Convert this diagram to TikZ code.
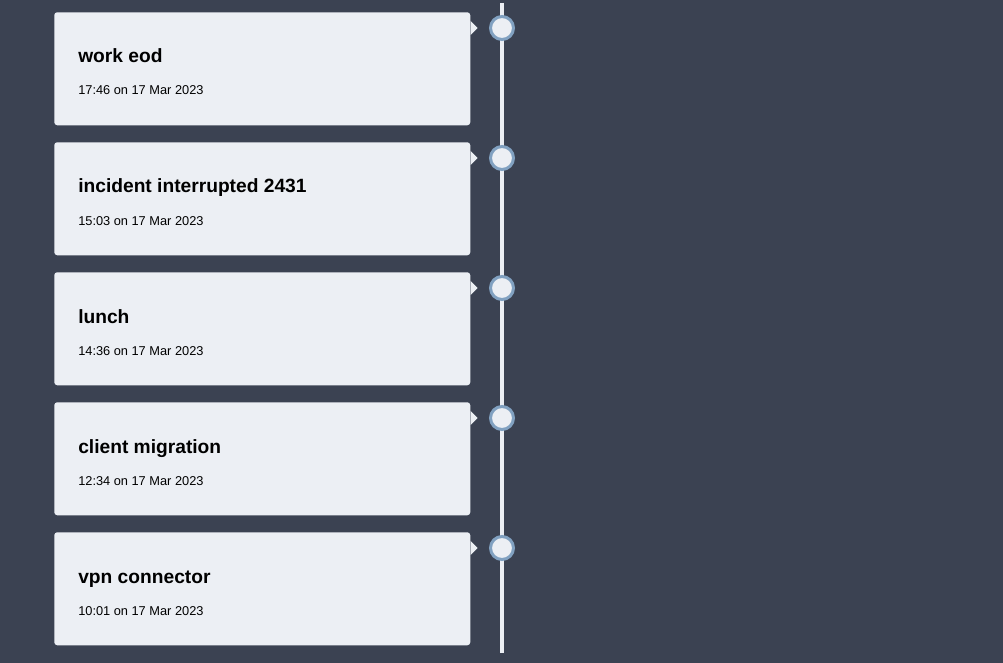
\documentclass[tikz,border=0pt]{standalone}
\usepackage{fontspec}
\setmainfont{Liberation Sans}
\usetikzlibrary{positioning,calc}
\definecolor{nordBg}{RGB}{59,66,82}
\definecolor{nordSnow}{RGB}{236,239,244}
\definecolor{nordFrost}{RGB}{129,161,193}

\begin{document}
\begin{tikzpicture}[x=0.75pt,y=-0.75pt,
    card/.style={fill=nordSnow,rounded corners=2.25pt,minimum width=312pt,
                 minimum height=84.75pt,inner sep=0pt,anchor=north west},
    ttl/.style={font=\fontsize{14.4}{17}\selectfont\bfseries,anchor=base west,inner sep=0pt},
    stamp/.style={font=\fontsize{9.6}{11}\selectfont,anchor=base west,inner sep=0pt},
    dot/.style={circle,draw=nordFrost,line width=2.25pt,fill=nordSnow,
                minimum size=17.25pt,inner sep=0pt},
    spine/.style={draw=nordSnow,line width=3.4pt}]
    \fill[nordBg] (0,0) rectangle (1003,663);
    \useasboundingbox (0,0) rectangle (1003,663);
    % the time line
    \coordinate (top) at (502,3);
    \coordinate (bot) at (502,653);
    \draw[spine] (top) -- (bot);
    \foreach \t/\d [count=\i from 0] in {work eod/17:46,
        incident interrupted 2431/15:03, lunch/14:36,
        client migration/12:34, vpn connector/10:01} {
      \node[card] (c\i) at (54,12+130*\i) {};
      \node[ttl] (t\i) at ($(c\i.north west)+(24,51)$) {\t};
      \node[stamp] (s\i) at ($(c\i.north west)+(24,83)$) {\d{} on 17 Mar 2023};
      \node[dot] (d\i) at (502,28+130*\i) {};
      \fill[nordSnow] (c\i.east |- d\i) ++(0,-7) -- ++(7,7) -- ++(-7,7) -- cycle;
    }
\end{tikzpicture}
\end{document}
